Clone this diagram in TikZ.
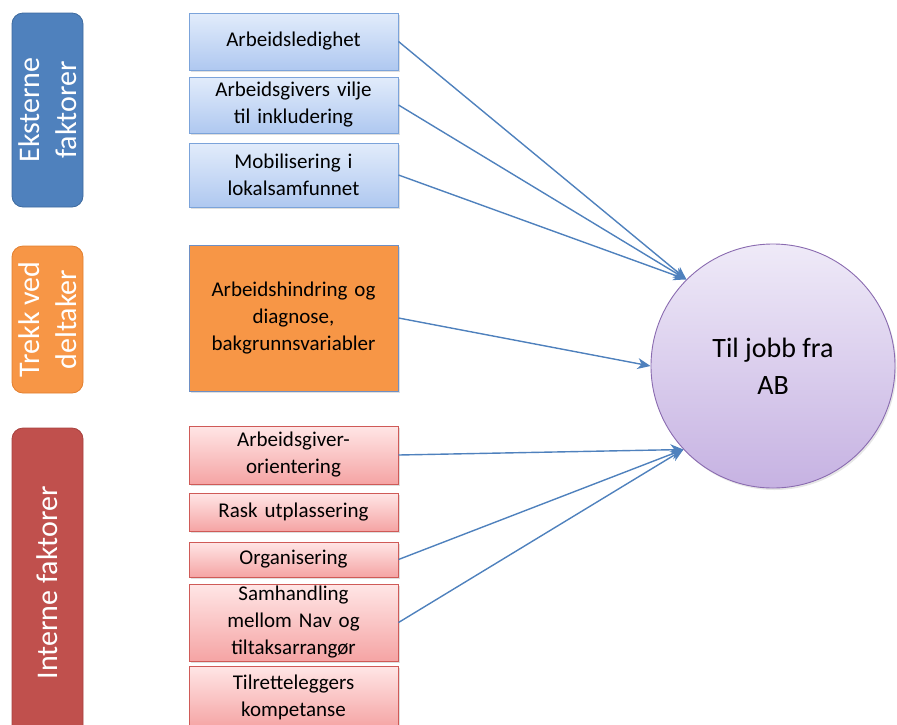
\documentclass[tikz,border=0pt]{standalone}
\usepackage{fontspec}
\setmainfont{Carlito}
\usepackage{tikz}
\usetikzlibrary{positioning}
\usetikzlibrary{shapes,arrows,arrows.meta}
\usetikzlibrary{shadows}

\definecolor{extBlue}{HTML}{4F81BD}
\definecolor{extBlueLine}{HTML}{3D6A9E}
\definecolor{extBoxTop}{HTML}{E2ECFB}
\definecolor{extBoxBottom}{HTML}{AFC8F0}
\definecolor{extBoxLine}{HTML}{7BA3DA}
\definecolor{partOrange}{HTML}{F79646}
\definecolor{partOrangeLine}{HTML}{E27F2E}
\definecolor{partBoxLine}{HTML}{6E8FC4}
\definecolor{intRed}{HTML}{C0504D}
\definecolor{intRedLine}{HTML}{A8413E}
\definecolor{intBoxTop}{HTML}{FFE6E6}
\definecolor{intBoxBottom}{HTML}{F5A4A4}
\definecolor{intBoxLine}{HTML}{CF5A57}
\definecolor{goalTop}{HTML}{EFEAF8}
\definecolor{goalBottom}{HTML}{C6B2E2}
\definecolor{goalLine}{HTML}{8A6BB0}
\definecolor{arrowBlue}{HTML}{4F81BD}

\begin{document}
\begin{tikzpicture} [x=1pt, y=-1pt, >={Stealth[length=13pt,width=11pt,inset=4pt]}, node distance = 7pt]
            % Set styles
            \tikzset{
                groupLabel/.style={
                        rectangle,
                        rounded corners=11pt,
                        draw,
                        line width=0.8pt,
                        rotate=90,
                        minimum height=71pt,
                        inner sep=0pt,
                        align=center,
                        text=white,
                        font=\fontsize{30}{37}\selectfont
                    }
            }
            \tikzset{
                factorBox/.style={
                        rectangle,
                        draw,
                        line width=1pt,
                        minimum width=209pt,
                        text width=205pt,
                        inner xsep=2pt,
                        inner ysep=0pt,
                        align=center,
                        font=\fontsize{21}{27}\selectfont,
                        drop shadow={shadow xshift=1.5pt, shadow yshift=-1.5pt, opacity=0.25}
                    }
            }
            \tikzset{
                extBox/.style={
                        factorBox,
                        draw=extBoxLine,
                        top color=extBoxTop,
                        bottom color=extBoxBottom
                    }
            }
            \tikzset{
                partBox/.style={
                        factorBox,
                        draw=partBoxLine,
                        fill=partOrange
                    }
            }
            \tikzset{
                intBox/.style={
                        factorBox,
                        draw=intBoxLine,
                        top color=intBoxTop,
                        bottom color=intBoxBottom
                    }
            }
            \tikzset{
                goalNode/.style={
                        circle,
                        draw=goalLine,
                        line width=0.9pt,
                        top color=goalTop,
                        bottom color=goalBottom,
                        minimum size=244pt,
                        align=center,
                        font=\fontsize{28}{37}\selectfont,
                        drop shadow={shadow xshift=1.5pt, shadow yshift=-2pt, opacity=0.2}
                    }
            }
            \tikzset{
                connector/.style={
                        ->,
                        draw=arrowBlue,
                        line width=1.4pt
                    }
            }
            \useasboundingbox (0,0) rectangle (897,724);
            % Group labels
            \node[groupLabel, fill=extBlue, draw=extBlueLine, minimum width=194pt] (eksterne) at (47.5,110) {Eksterne\\faktorer};
            \node[groupLabel, fill=partOrange, draw=partOrangeLine, minimum width=147pt] (trekk) at (47.5,319.5) {Trekk ved\\deltaker};
            \node[groupLabel, fill=intRed, draw=intRedLine, minimum width=310pt] (interne) at (47.5,583) {Interne faktorer};
            % Factor boxes
            \node[extBox, minimum height=57pt] (ledighet) at (293.5,41.5) {Arbeidsledighet};
            \node[extBox, minimum height=56pt, below = 6pt of ledighet] (vilje) {Arbeidsgivers vilje\\til inkludering};
            \node[extBox, minimum height=64pt, below = 9pt of vilje] (mobil) {Mobilisering i\\lokalsamfunnet};
            \node[partBox, minimum height=146pt, below = 37pt of mobil] (hindring) {Arbeidshindring og\\diagnose,\\bakgrunnsvariabler};
            \node[intBox, minimum height=58pt, below = 34pt of hindring] (orient) {Arbeidsgiver-\\orientering};
            \node[intBox, minimum height=38pt, below = 8pt of orient] (rask) {Rask utplassering};
            \node[intBox, minimum height=35pt, below = 10pt of rask] (organ) {Organisering};
            \node[intBox, minimum height=77pt, below = 6pt of organ] (samhand) {Samhandling\\mellom Nav og\\tiltaksarrang\o r};
            \node[intBox, minimum height=62pt, below = 4pt of samhand] (kompet) {Tilretteleggers\\kompetanse};
            % Goal
            \node[goalNode] (goal) at (773,366) {Til jobb fra\\AB};
            % Placing arrows
            \draw[connector] (ledighet.east) -- (goal.135);
            \draw[connector] (vilje.east) -- (goal.135);
            \draw[connector] (mobil.east) -- (goal.135);
            \draw[connector] (hindring.east) -- (goal.180);
            \draw[connector] (orient.east) -- (goal.223);
            \draw[connector] (organ.east) -- (goal.223);
            \draw[connector] (samhand.east) -- (goal.223);
        \end{tikzpicture}
\end{document}
